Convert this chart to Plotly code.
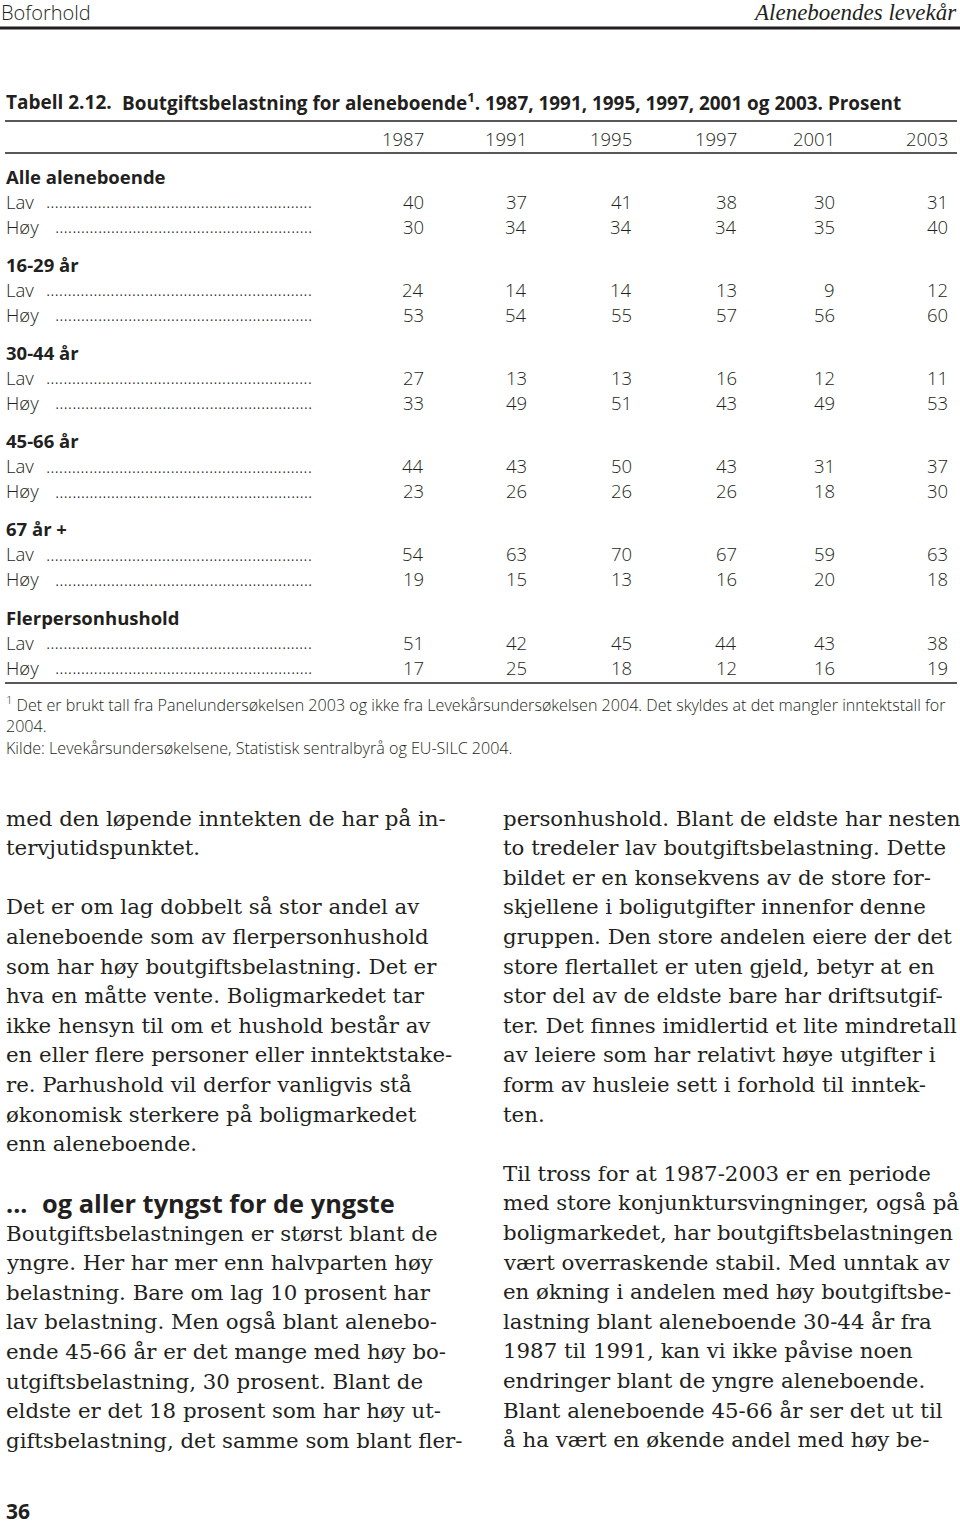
import plotly.graph_objects as go

# ---------------- data ----------------
years = ["1987", "1991", "1995", "1997", "2001", "2003"]
groups = ["Alle aleneboende", "16-29 år", "30-44 år", "45-66 år", "67 år +", "Flerpersonhushold"]
row_labels = ["Lav", "Høy"]
lav = [
    [40, 37, 41, 38, 30, 31],
    [24, 14, 14, 13, 9, 12],
    [27, 13, 13, 16, 12, 11],
    [44, 43, 50, 43, 31, 37],
    [54, 63, 70, 67, 59, 63],
    [51, 42, 45, 44, 43, 38],
]
hoy = [
    [30, 34, 34, 34, 35, 40],
    [53, 54, 55, 57, 56, 60],
    [33, 49, 51, 43, 49, 53],
    [23, 26, 26, 26, 18, 30],
    [19, 15, 13, 16, 20, 18],
    [17, 25, 18, 12, 16, 19],
]

header_left = "Boforhold"
header_right = "Aleneboendes levekår"
title_num = "Tabell 2.12."
title_text = "Boutgiftsbelastning for aleneboende<sup>1</sup>. 1987, 1991, 1995, 1997, 2001 og 2003. Prosent"
footnotes = [
    "<sup>1</sup> Det er brukt tall fra Panelundersøkelsen 2003 og ikke fra Levekårsundersøkelsen 2004. Det skyldes at det mangler inntektstall for",
    "2004.",
    "Kilde: Levekårsundersøkelsene, Statistisk sentralbyrå og EU-SILC 2004.",
]

left_col_1 = [
    "med den løpende inntekten de har på in-",
    "tervjutidspunktet.",
    "",
    "Det er om lag dobbelt så stor andel av",
    "aleneboende som av flerpersonhushold",
    "som har høy boutgiftsbelastning. Det er",
    "hva en måtte vente. Boligmarkedet tar",
    "ikke hensyn til om et hushold består av",
    "en eller flere personer eller inntektstake-",
    "re. Parhushold vil derfor vanligvis stå",
    "økonomisk sterkere på boligmarkedet",
    "enn aleneboende.",
]
subheading_dots = "..."
subheading = "og aller tyngst for de yngste"
left_col_2 = [
    "Boutgiftsbelastningen er størst blant de",
    "yngre. Her har mer enn halvparten høy",
    "belastning. Bare om lag 10 prosent har",
    "lav belastning. Men også blant alenebo-",
    "ende 45-66 år er det mange med høy bo-",
    "utgiftsbelastning, 30 prosent. Blant de",
    "eldste er det 18 prosent som har høy ut-",
    "giftsbelastning, det samme som blant fler-",
]
right_col = [
    "personhushold. Blant de eldste har nesten",
    "to tredeler lav boutgiftsbelastning. Dette",
    "bildet er en konsekvens av de store for-",
    "skjellene i boligutgifter innenfor denne",
    "gruppen. Den store andelen eiere der det",
    "store flertallet er uten gjeld, betyr at en",
    "stor del av de eldste bare har driftsutgif-",
    "ter. Det finnes imidlertid et lite mindretall",
    "av leiere som har relativt høye utgifter i",
    "form av husleie sett i forhold til inntek-",
    "ten.",
    "",
    "Til tross for at 1987-2003 er en periode",
    "med store konjunktursvingninger, også på",
    "boligmarkedet, har boutgiftsbelastningen",
    "vært overraskende stabil. Med unntak av",
    "en økning i andelen med høy boutgiftsbe-",
    "lastning blant aleneboende 30-44 år fra",
    "1987 til 1991, kan vi ikke påvise noen",
    "endringer blant de yngre aleneboende.",
    "Blant aleneboende 45-66 år ser det ut til",
    "å ha vært en økende andel med høy be-",
]
page_number = "36"

# ---------------- layout / style ----------------
W, H = 960, 1525
INK = "#231f20"
SANS = "Open Sans, Noto Sans, DejaVu Sans, sans-serif"
SERIF = "DejaVu Serif, Liberation Serif, serif"
HSERIF = "Liberation Serif, DejaVu Serif, serif"
col_right = [425, 528, 633, 738, 836, 949]
dots_right = 313
dot_counts = {"Lav": 62, "Høy": 60}
group_y0, group_step, row_step = 176, 88.2, 25
body_step = 29.6
BODY = 21.3

fig = go.Figure()
fig.add_trace(go.Scatter(x=[0], y=[0], mode="markers", marker=dict(opacity=0), hoverinfo="skip"))
fig.update_layout(
    width=W, height=H, margin=dict(l=0, r=0, t=0, b=0),
    paper_bgcolor="white", plot_bgcolor="white", showlegend=False,
    xaxis=dict(range=[0, W], visible=False, fixedrange=True),
    yaxis=dict(range=[H, 0], visible=False, fixedrange=True),
)


def txt(x, y, s, size, family=SANS, anchor="left", color=INK, weight=None):
    f = dict(size=size, family=family, color=color)
    if weight:
        f["weight"] = weight
    fig.add_annotation(x=x, y=y, xref="x", yref="y", text=s, showarrow=False,
                       xanchor=anchor, yanchor="middle", borderpad=0, font=f)


def hline(y, x0, x1, w):
    fig.add_shape(type="line", xref="x", yref="y", x0=x0, x1=x1, y0=y, y1=y,
                  line=dict(color=INK, width=w))


# page header
txt(0, 12, header_left, 20, weight=300)
txt(958, 12, "<i>" + header_right + "</i>", 23, family=HSERIF, anchor="right")
hline(28, 0, W, 3)

# table title
txt(5, 102, "<b>" + title_num + "</b>", 19)
txt(121, 102, "<b>" + title_text + "</b>", 18.9)
hline(121, 5, 957, 1.5)
for yr, xr in zip(years, col_right):
    txt(xr, 138, yr, 18.5, anchor="right", weight=300)
hline(153, 5, 957, 1.5)

# table body
for g, name in enumerate(groups):
    gy = group_y0 + g * group_step
    txt(5, gy, "<b>" + name + "</b>", 18.5)
    for r, (lab, vals) in enumerate(zip(row_labels, [lav[g], hoy[g]])):
        ry = gy + (r + 1) * row_step
        txt(5, ry, lab, 18.5, weight=300)
        txt(dots_right, ry, "." * dot_counts[lab], 18, anchor="right", weight=300)
        for v, xr in zip(vals, col_right):
            txt(xr, ry, str(v), 18.5, anchor="right", weight=300)
hline(683, 5, 957, 1.5)

# footnotes
for i, line in enumerate(footnotes):
    txt(5, 704 + i * 22, line, 16.1, weight=300)

# body text, left column
for i, line in enumerate(left_col_1):
    if line:
        txt(5, 818 + i * body_step, line, BODY, family=SERIF)
txt(5, 1203, "<b>" + subheading_dots + "</b>", 25)
txt(41, 1203, "<b>" + subheading + "</b>", 25.4)
for i, line in enumerate(left_col_2):
    txt(5, 1233 + i * body_step, line, BODY, family=SERIF)

# body text, right column
for i, line in enumerate(right_col):
    if line:
        txt(502, 818 + i * body_step, line, BODY, family=SERIF)

txt(5, 1511, "<b>" + page_number + "</b>", 21)

fig.write_html("out.html", config={"displayModeBar": False},
               post_script="document.body.style.margin='0px';document.body.style.padding='0px';")
